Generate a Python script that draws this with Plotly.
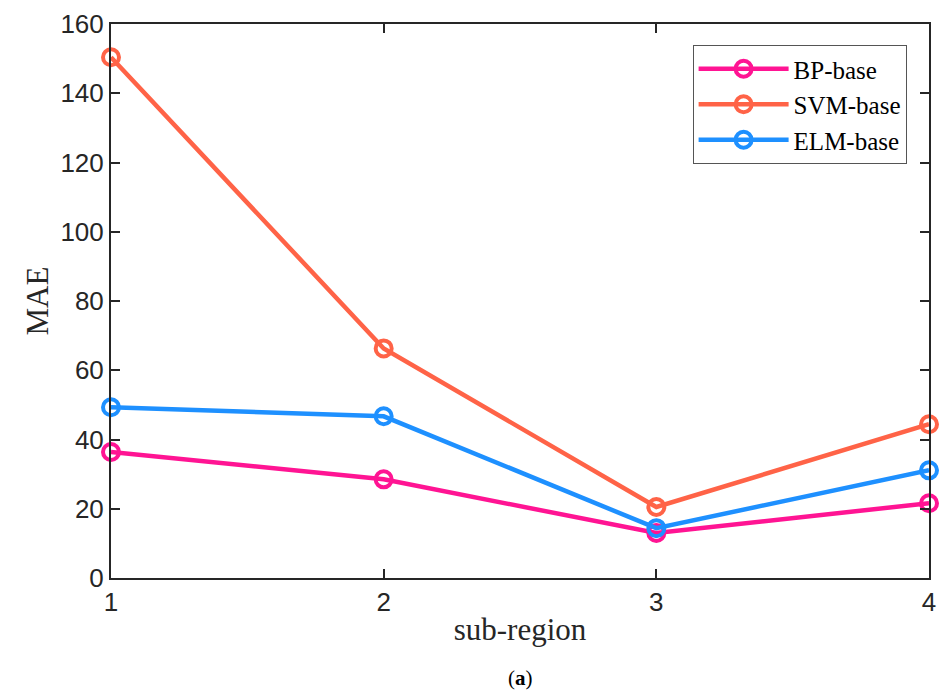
import plotly.graph_objects as go

regions = [1, 2, 3, 4]
bp_base = [36.4, 28.5, 13.0, 21.6]
svm_base = [150.4, 66.3, 20.5, 44.4]
elm_base = [49.3, 46.7, 14.4, 31.1]
y_ticks = [0, 20, 40, 60, 80, 100, 120, 140, 160]

series = [
    ("BP-base", bp_base, "rgb(255,20,147)"),
    ("SVM-base", svm_base, "rgb(255,99,71)"),
    ("ELM-base", elm_base, "rgb(30,144,255)"),
]

fig = go.Figure()
for name, vals, col in series:
    fig.add_trace(go.Scatter(
        x=regions, y=vals, name=name, mode="lines+markers",
        line=dict(color=col, width=4.5),
        marker=dict(symbol="circle-open", size=16, color=col, line=dict(width=4, color=col)),
        cliponaxis=False,
    ))

axis_common = dict(
    showline=True, linecolor="#262626", linewidth=2, mirror="ticks",
    ticks="inside", ticklen=9, tickwidth=1.5, tickcolor="#262626",
    showgrid=False, zeroline=False,
    tickfont=dict(family="Liberation Sans, Arial", size=26, color="#262626"),
)

fig.update_layout(
    width=945, height=693,
    margin=dict(l=111, r=9, t=23, b=115),
    paper_bgcolor="white", plot_bgcolor="white",
    xaxis=dict(range=[1, 4], tickvals=regions, ticktext=[str(r) for r in regions],
               title=dict(text="sub-region", font=dict(family="Liberation Serif, Times New Roman", size=31, color="#262626"), standoff=2),
               **axis_common),
    yaxis=dict(range=[0, 160], tickvals=y_ticks,
               title=dict(text="MAE", font=dict(family="Liberation Serif, Times New Roman", size=31, color="#262626"), standoff=3),
               **axis_common),
    legend=dict(x=0.711, y=0.962, xanchor="left", yanchor="top",
                bordercolor="#555555", borderwidth=1, bgcolor="white",
                font=dict(family="Liberation Serif, Times New Roman", size=25, color="black"),
                itemwidth=90, tracegroupgap=0),
    showlegend=True,
)

fig.add_annotation(text="(<b>a</b>)", xref="paper", yref="paper", x=0.5, y=-0.18,
                   showarrow=False, xanchor="center", yanchor="middle",
                   font=dict(family="Liberation Serif, Times New Roman", size=21, color="black"))

fig.write_html("out.html")
